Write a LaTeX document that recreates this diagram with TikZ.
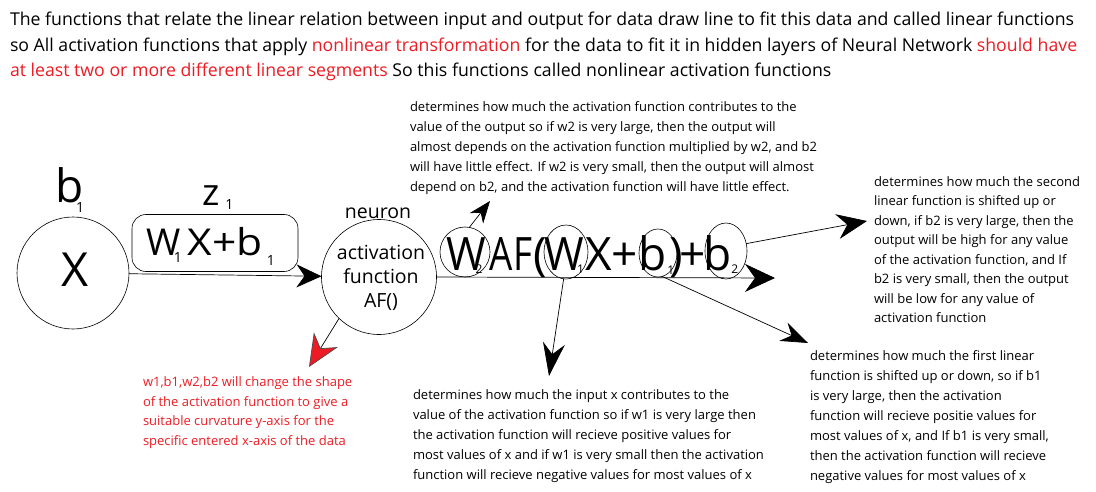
\documentclass[tikz,border=0pt]{standalone}
\usepackage{fontspec}
\setmainfont{Open Sans}
\usetikzlibrary{arrows.meta,shapes.geometric}
\definecolor{redtxt}{RGB}{237,28,36}
\newcommand\subdig[4]{\kern#1\raisebox{#2}{\fontsize{#4}{#4}\selectfont #3}}
\begin{document}
\begin{tikzpicture}[x=1pt,y=-1pt,
  every node/.style={inner sep=0pt, outer sep=0pt},
  para/.style={align=left, anchor=north west, font=\fontsize{13}{20}\selectfont},
  toptext/.style={align=left, anchor=north west, font=\fontsize{17.7}{25.5}\selectfont},
  big/.style={anchor=base west, font=\fontsize{46}{46}\selectfont},
  mid/.style={anchor=base west, font=\fontsize{37}{37}\selectfont},
  ring/.style={draw, ellipse, line width=0.6pt},
  conn/.style={line width=0.7pt},
  tipmain/.style={-{Stealth[length=25pt,width=23pt,inset=8pt]}},
  tipout/.style={-{Stealth[length=30pt,width=28pt,inset=10pt]}},
  tipsmall/.style={-{Stealth[length=22pt,width=17pt,inset=7pt]}},
  tipdown/.style={-{Stealth[length=33pt,width=22pt,inset=11pt]}},
  tipb1/.style={-{Stealth[length=27pt,width=20pt,inset=9pt]}},
  tipb2/.style={-{Stealth[length=30pt,width=25pt,inset=10pt]}},
  tipred/.style={-{Stealth[length=32pt,width=28pt,inset=10pt,color=black!70,fill=redtxt]}},
]
\useasboundingbox[fill=white] (0,0) rectangle (1096,492);

% top paragraph
\node[toptext] (top) at (10,12) {The functions that relate the linear relation between input and output for data draw line to fit this data and called linear functions\\
so All activation functions that apply \textcolor{redtxt}{nonlinear transformation} for the data to fit it in hidden layers of Neural Network \textcolor{redtxt}{should have}\\
\textcolor{redtxt}{at least two or more different linear segments} So this functions called nonlinear activation functions};

% input circle
\node[draw, circle, minimum size=112pt, line width=0.6pt] (X) at (73,273) {};
\node[font=\fontsize{47}{47}\selectfont] (Xtxt) at (75,270) {X};
\node[big] (btop) at (56,203) {b\subdig{-8pt}{-10pt}{1}{14}};

% box w1X+b1
\node[draw, rounded corners=14pt, minimum width=166pt, minimum height=57pt, line width=0.6pt] (box) at (215,243) {};
\node[mid] (boxtxt) at (146,255) {W\subdig{-6.3pt}{-7pt}{1}{14}\kern6pt\scalebox{1.15}[1]{X+b}\subdig{4pt}{-10pt}{1}{14}};
\node[mid] (ztxt) at (202,205) {z\subdig{6pt}{-5pt}{1}{14}};

% activation neuron
\node[draw, circle, minimum size=115pt, line width=0.6pt] (act) at (379,277) {};
\node[align=center, font=\fontsize{19.5}{24}\selectfont] (acttxt) at (381,278) {activation\\function\\AF()};
\node[font=\fontsize{19.5}{24}\selectfont] (neuron) at (378,213) {neuron};

\draw[conn, tipmain] (X) -- (act);
\coordinate (outend) at (775,278);
\draw[conn, tipout] (act.east) -- (outend);

% formula
\node[big] (formula) at (446,270) {\scalebox{0.93}[1]{W}\subdig{-10pt}{-3pt}{2}{12}\kern7.4pt\scalebox{0.8}[1]{AF}\kern1.5pt(\kern-2.7pt\scalebox{0.93}[1]{W}\subdig{-7pt}{-3pt}{1}{12}\kern1.4pt X+b\subdig{0.9pt}{-4pt}{1}{12}\kern-5pt)\kern-3pt+\kern-3pt b\subdig{0pt}{-3pt}{2}{12}};

\node[ring, minimum width=50pt, minimum height=50pt] (W2e) at (465,252) {};
\node[ring, minimum width=44pt, minimum height=54pt] (W1e) at (566,252) {};
\node[ring, minimum width=38pt, minimum height=48pt] (b1e) at (658,253) {};
\node[ring, minimum width=42pt, minimum height=56pt] (b2e) at (726,251) {};

\coordinate (w2end) at (490,201);
\coordinate (w1end) at (549,376);
\coordinate (b1end) at (808,343);
\coordinate (b2end) at (867,221);
\coordinate (redend) at (309,367);

\draw[conn, tipsmall] (W2e.80) -- (w2end);
\draw[conn, tipdown] (W1e.-95) -- (w1end);
\draw[conn, tipb1] (b1e.-80) -- (b1end);
\draw[conn, tipb2] (b2e.20) -- (b2end);
\draw[conn, tipred] (act.-134) -- (redend);

% annotations
\node[para] (pW2) at (410,101.6) {determines how much the activation function contributes to the\\
value of the output so if w2 is very large, then the output will\\
almost depends on the activation function multiplied by w2, and b2\\
will have little effect. If w2 is very small, then the output will almost\\
depend on b2, and the activation function will have little effect.};

\node[para, font=\fontsize{13}{19.5}\selectfont] (pb2) at (874,176.6) {determines how much the second\\
linear function is shifted up or\\
down, if b2 is very large, then the\\
output will be high for any value\\
of the activation function, and If\\
b2 is very small, then the output\\
will be low for any value of\\
activation function};

\node[para] (pb1) at (810,350.6) {determines how much the first linear\\
function is shifted up or down, so if b1\\
is very large, then the activation\\
function will recieve positie values for\\
most values of x, and If b1 is very small,\\
then the activation function will recieve\\
negative values for most values of x};

\node[para] (pW1) at (413,389.6) {determines how much the input x contributes to the\\
value of the activation function so if w1 is very large then\\
the activation function will recieve positive values for\\
most values of x and if w1 is very small then the activation\\
function will recieve negative values for most values of x};

\node[para, text=redtxt, font=\fontsize{13}{19.7}\selectfont] (pred) at (143,376.6) {w1,b1,w2,b2 will change the shape\\
of the activation function to give a\\
suitable curvature y-axis for the\\
specific entered x-axis of the data};
\end{tikzpicture}
\end{document}
